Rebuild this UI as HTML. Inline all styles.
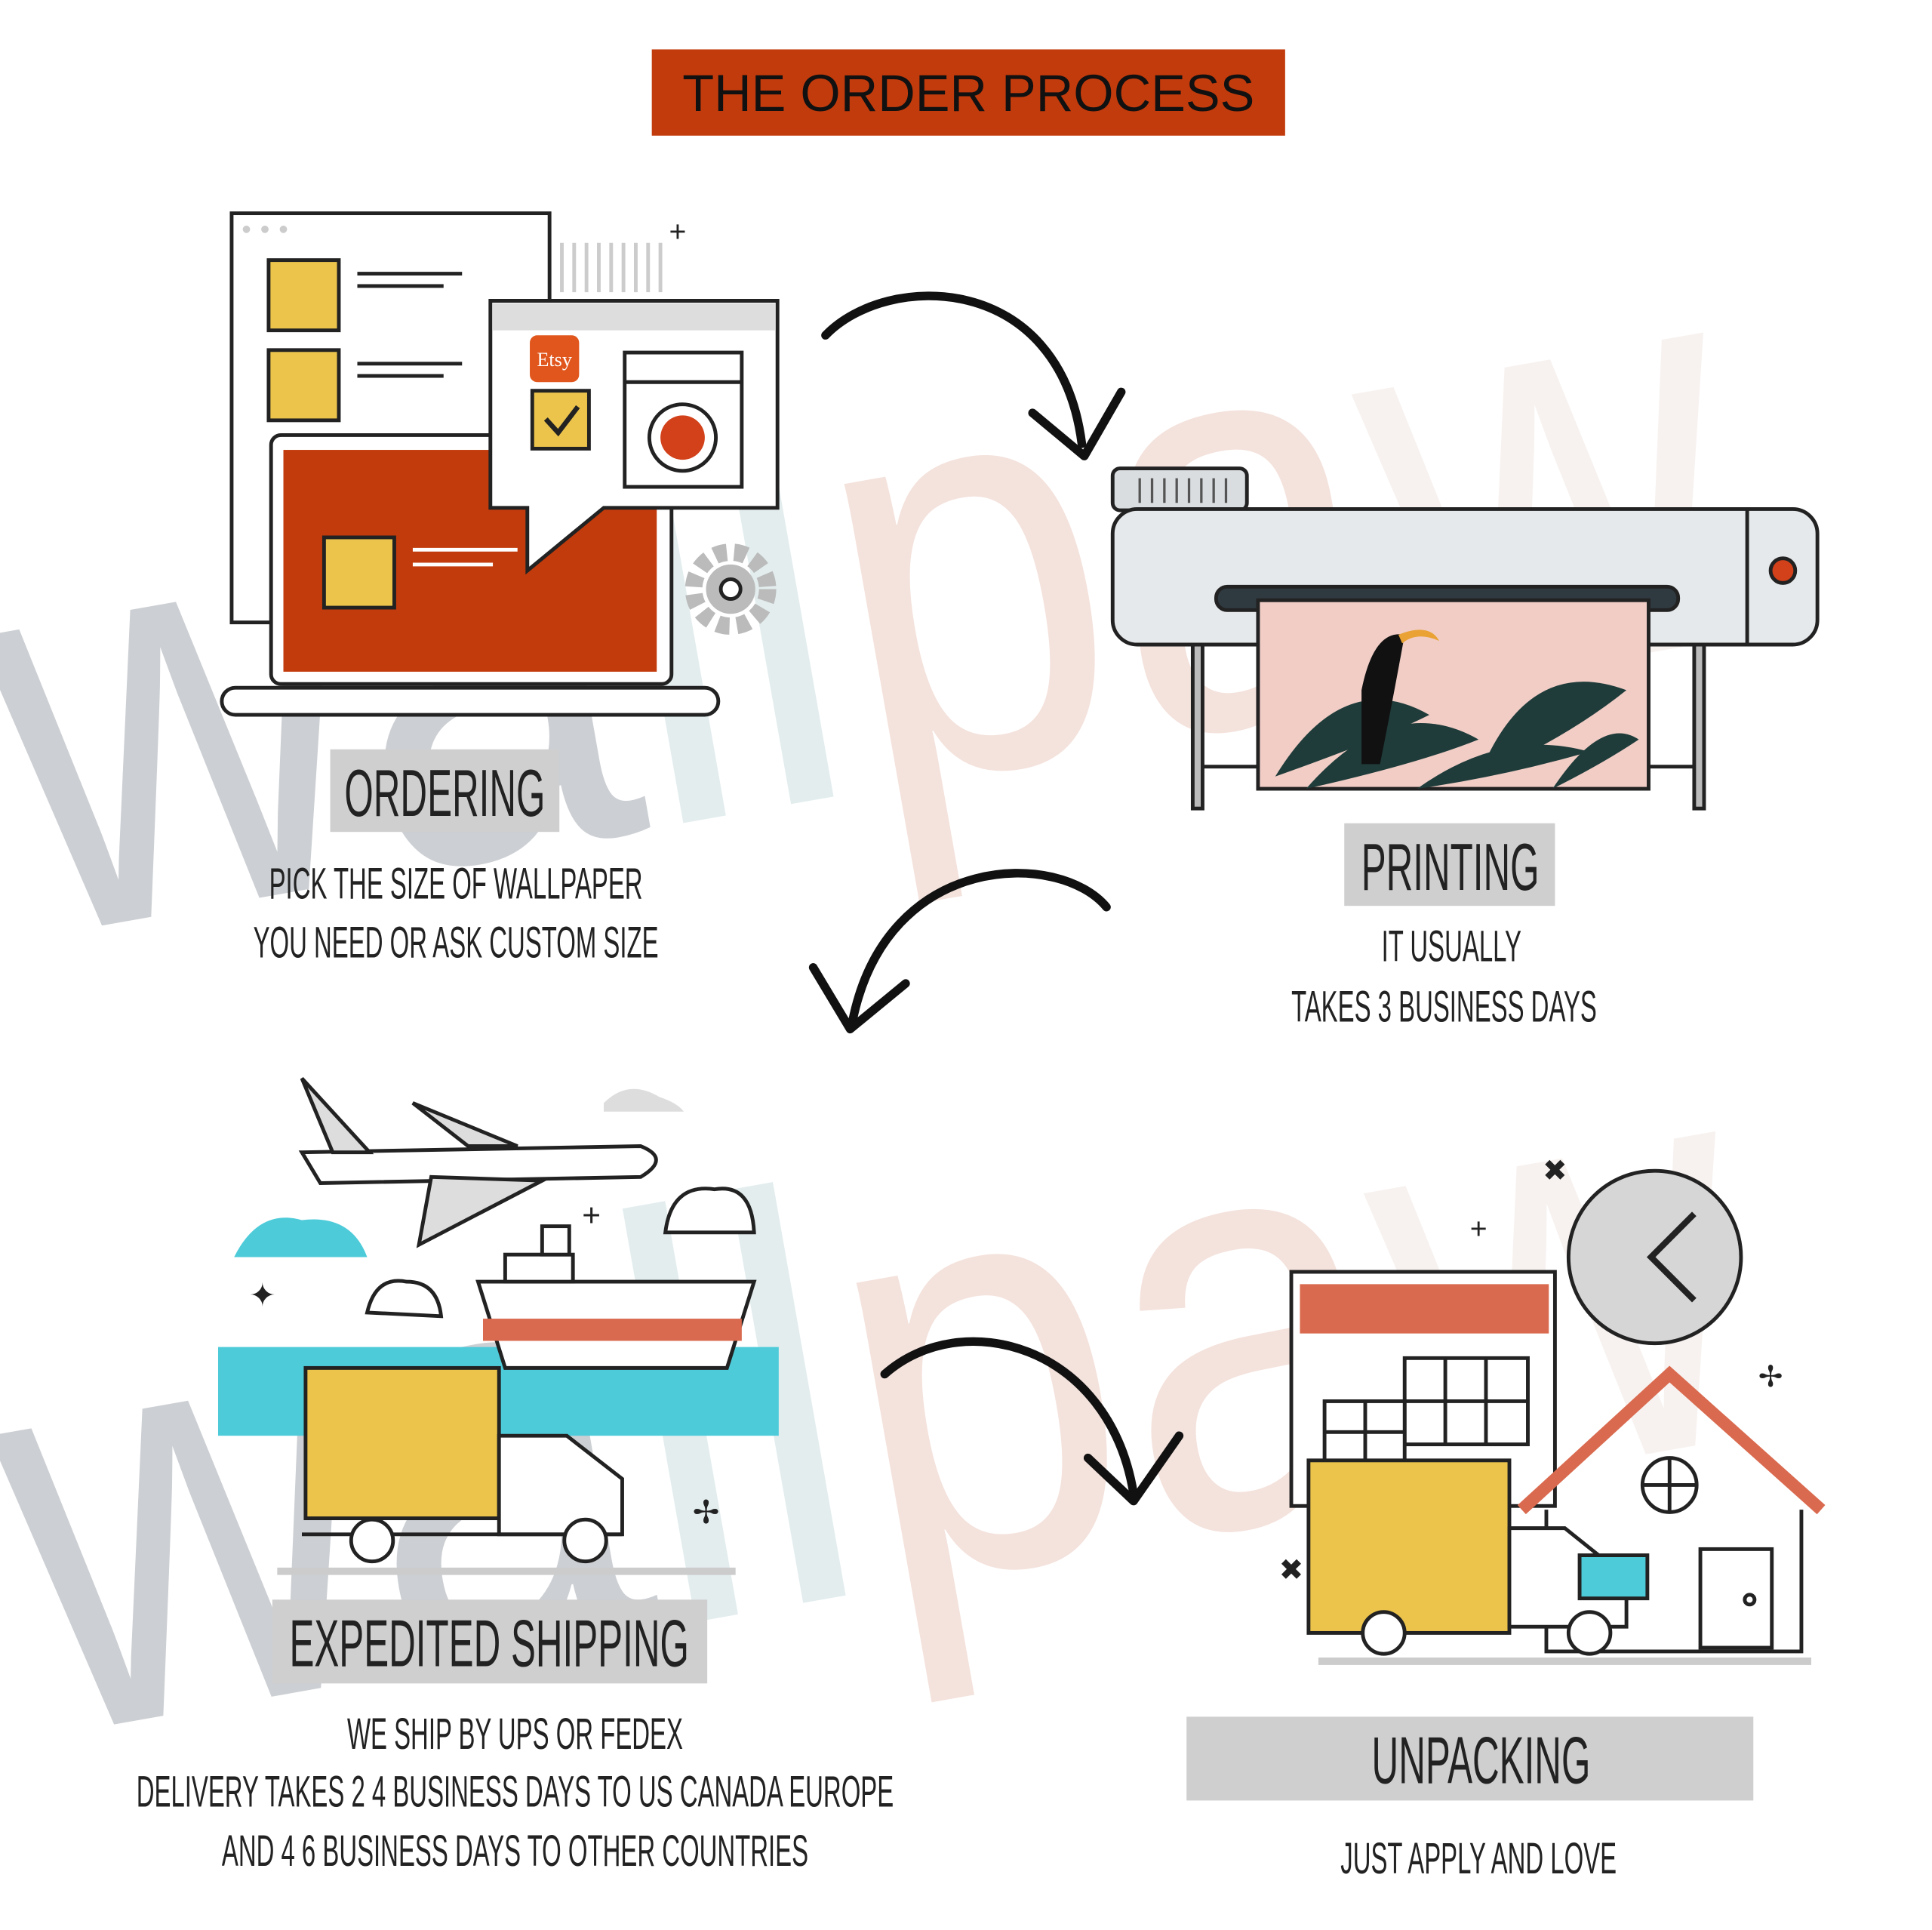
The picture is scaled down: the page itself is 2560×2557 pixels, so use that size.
<!DOCTYPE html>
<html><head><meta charset="utf-8">
<style>
html,body{margin:0;padding:0;background:#fff;}
svg{display:block;}
.lab{font-family:"Liberation Sans",sans-serif;fill:#222;}
</style></head>
<body>
<svg width="2560" height="2557" viewBox="0 0 1568 1566" xmlns="http://www.w3.org/2000/svg">
<rect width="1568" height="1566" fill="#fff"/>

<!-- watermarks -->
<g opacity="0.45" font-family="Liberation Sans,sans-serif" font-size="470">
 <text transform="rotate(-10 700 500) translate(-10 640) scale(0.85 1)"><tspan fill="#8f969e">wa</tspan><tspan fill="#c2d8db">ll</tspan><tspan fill="#e8bfb3">pa</tspan><tspan fill="#efe4de">w</tspan></text>
 <text transform="rotate(-10 700 1150) translate(0 1290) scale(0.85 1)"><tspan fill="#8f969e">wa</tspan><tspan fill="#c2d8db">ll</tspan><tspan fill="#e8bfb3">pa</tspan><tspan fill="#efe4de">w</tspan></text>
</g>

<!-- title -->
<rect x="529" y="40" width="514" height="70" fill="#c23b0c"/>
<text x="786" y="90" text-anchor="middle" font-family="Liberation Sans,sans-serif" font-size="42" fill="#111">THE ORDER PROCESS</text>

<!-- ORDERING illustration -->
<g stroke="#222" stroke-width="3">
 <rect x="188" y="173" width="258" height="332" fill="#fff"/>
 <circle cx="200" cy="186" r="3" fill="#ccc" stroke="none"/><circle cx="215" cy="186" r="3" fill="#ccc" stroke="none"/><circle cx="230" cy="186" r="3" fill="#ccc" stroke="none"/>
 <rect x="218" y="211" width="57" height="57" fill="#ecc44c"/>
 <rect x="218" y="284" width="57" height="57" fill="#ecc44c"/>
 <line x1="290" y1="222" x2="375" y2="222"/><line x1="290" y1="232" x2="360" y2="232"/>
 <line x1="290" y1="295" x2="375" y2="295"/><line x1="290" y1="305" x2="360" y2="305"/>
 <rect x="220" y="353" width="325" height="202" rx="8" fill="#fff"/>
 <rect x="230" y="365" width="303" height="180" fill="#c23b0c" stroke="none"/>
 <rect x="180" y="558" width="403" height="22" rx="11" fill="#fff"/>
 <rect x="263" y="436" width="57" height="57" fill="#ecc44c"/>
 <line x1="335" y1="446" x2="420" y2="446" stroke="#fff"/><line x1="335" y1="458" x2="400" y2="458" stroke="#fff"/>
 <path d="M398 244 H631 V412 H490 L428 463 V412 H398 Z" fill="#fff"/>
 <rect x="400" y="246" width="229" height="22" fill="#ddd" stroke="none"/>
 <rect x="430" y="272" width="40" height="38" rx="6" fill="#e0561c" stroke="none"/>
 <text x="450" y="297" text-anchor="middle" font-family="Liberation Serif,serif" font-size="16" fill="#fff" stroke="none">Etsy</text>
 <rect x="432" y="317" width="46" height="47" fill="#ecc44c"/>
 <path d="M443 340 L453 351 L469 330" fill="none" stroke-width="4"/>
 <rect x="507" y="286" width="95" height="109" fill="#fff"/>
 <line x1="507" y1="310" x2="602" y2="310"/>
 <circle cx="554" cy="355" r="27" fill="#fff"/>
 <circle cx="554" cy="355" r="18" fill="#d2411a" stroke="none"/>
 <circle cx="593" cy="478" r="30" fill="none" stroke="#bbb" stroke-width="14" stroke-dasharray="10 6"/>
 <circle cx="593" cy="478" r="20" fill="#bbb" stroke="none"/>
 <circle cx="593" cy="478" r="8" fill="#fff"/>
</g>
<g stroke="#ccc" stroke-width="3">
 <line x1="456" y1="197" x2="456" y2="237"/><line x1="466" y1="197" x2="466" y2="237"/><line x1="476" y1="197" x2="476" y2="237"/><line x1="486" y1="197" x2="486" y2="237"/><line x1="496" y1="197" x2="496" y2="237"/><line x1="506" y1="197" x2="506" y2="237"/><line x1="516" y1="197" x2="516" y2="237"/><line x1="526" y1="197" x2="526" y2="237"/><line x1="536" y1="197" x2="536" y2="237"/>
</g>
<text x="550" y="196" font-family="Liberation Sans,sans-serif" font-size="24" fill="#222" text-anchor="middle">+</text>

<!-- Arrows -->
<g fill="none" stroke="#111" stroke-width="7" stroke-linecap="round" stroke-linejoin="round">
 <path d="M670 272 C720 220 860 220 878 360"/>
 <path d="M838 335 L880 370 L910 318"/>
 <path d="M898 736 C860 690 720 690 692 828"/>
 <path d="M660 785 L690 835 L735 798"/>
 <path d="M718 1115 C780 1060 900 1090 920 1212"/>
 <path d="M883 1183 L920 1218 L957 1165"/>
</g>

<!-- PRINTER -->
<g stroke="#222" stroke-width="3">
 <rect x="903" y="380" width="109" height="34" rx="6" fill="#d9dde0"/>
 <rect x="968" y="520" width="8" height="136" fill="#bbb"/>
 <rect x="1375" y="520" width="8" height="136" fill="#bbb"/>
 <line x1="976" y1="622" x2="1375" y2="622"/>
 <rect x="903" y="413" width="572" height="110" rx="20" fill="#e6e9eb"/>
 <line x1="1418" y1="413" x2="1418" y2="523"/>
 <circle cx="1447" cy="463" r="10" fill="#d2411a"/>
 <rect x="987" y="476" width="375" height="19" rx="9" fill="#2f3a40"/>
 <rect x="1021" y="487" width="317" height="153" fill="#f1cdc6"/>
</g>
<g stroke="#555" stroke-width="2"><line x1="925" y1="388" x2="925" y2="408"/><line x1="935" y1="388" x2="935" y2="408"/><line x1="945" y1="388" x2="945" y2="408"/><line x1="955" y1="388" x2="955" y2="408"/><line x1="965" y1="388" x2="965" y2="408"/><line x1="975" y1="388" x2="975" y2="408"/><line x1="985" y1="388" x2="985" y2="408"/><line x1="995" y1="388" x2="995" y2="408"/></g>
<g fill="#1f3c3a">
 <path d="M1035 630 Q1090 540 1160 580 Q1120 600 1035 630Z"/>
 <path d="M1060 640 Q1130 560 1200 600 Q1150 620 1060 640Z"/>
 <path d="M1200 630 Q1240 530 1320 560 Q1270 600 1200 630Z"/>
 <path d="M1150 640 Q1220 590 1290 610 Q1220 630 1150 640Z"/>
 <path d="M1260 640 Q1300 580 1330 600 Q1300 620 1260 640Z"/>
 <path d="M1105 560 Q1115 510 1140 515 Q1130 570 1120 620 L1105 620Z" fill="#111"/>
</g>
<path d="M1135 515 Q1160 505 1168 520 Q1150 512 1138 522Z" fill="#e9a233"/>

<!-- SHIPPING -->
<rect x="177" y="1093" width="455" height="72" fill="#4ecbd9"/>
<g stroke="#222" stroke-width="3">
 <path d="M245 935 L520 930 Q545 940 520 955 L260 960 Z" fill="#fff"/>
 <path d="M245 875 L300 935 L270 935Z" fill="#ddd"/>
 <path d="M335 895 L420 930 L380 930Z" fill="#ddd"/>
 <path d="M350 955 L440 958 L340 1010Z" fill="#ddd"/>
 <path d="M388 1040 L612 1040 L590 1110 L410 1110Z" fill="#fff"/>
 <rect x="392" y="1070" width="210" height="18" fill="#d96a4f" stroke="none"/>
 <rect x="410" y="1018" width="55" height="22" fill="#fff"/>
 <rect x="440" y="995" width="22" height="23" fill="#fff"/>
 <rect x="248" y="1110" width="157" height="122" fill="#ecc44c"/>
 <path d="M405 1165 H460 L505 1200 V1245 H405 Z" fill="#fff"/>
 <line x1="245" y1="1245" x2="505" y2="1245"/>
 <circle cx="302" cy="1250" r="17" fill="#fff"/>
 <circle cx="475" cy="1250" r="17" fill="#fff"/>
 <path d="M540 1000 Q545 960 580 965 Q610 960 612 1000 Z" fill="#fff"/>
 <path d="M298 1065 Q305 1035 330 1040 Q355 1040 358 1068 Z" fill="#fff"/>
</g>
<path d="M190 1020 Q210 980 245 990 Q285 985 298 1020Z" fill="#4ecbd9"/>
<path d="M490 895 Q510 875 535 890 Q550 895 555 902 H490Z" fill="#ddd"/>
<line x1="225" y1="1275" x2="597" y2="1275" stroke="#ccc" stroke-width="6"/>
<g font-family="Liberation Sans,sans-serif" font-size="26" fill="#222" text-anchor="middle">
 <text x="213" y="1060">✦</text><text x="480" y="995">+</text><text x="573" y="1236">✢</text>
</g>

<!-- UNPACKING -->
<g stroke="#222" stroke-width="3">
 <circle cx="1343" cy="1020" r="70" fill="#d6d6d6"/>
 <path d="M1375 985 L1340 1020 L1375 1055" fill="none" stroke-width="5"/>
 <rect x="1048" y="1032" width="214" height="190" fill="#fff"/>
 <rect x="1055" y="1042" width="202" height="40" fill="#d96a4f" stroke="none"/>
 <g fill="#fff">
  <rect x="1140" y="1102" width="100" height="70"/>
  <line x1="1173" y1="1102" x2="1173" y2="1172"/><line x1="1206" y1="1102" x2="1206" y2="1172"/>
  <line x1="1140" y1="1137" x2="1240" y2="1137"/>
  <rect x="1075" y="1137" width="65" height="50"/>
  <line x1="1108" y1="1137" x2="1108" y2="1187"/><line x1="1075" y1="1162" x2="1140" y2="1162"/>
 </g>
 <path d="M1255 1225 V1340 H1462 V1225" fill="#fff"/>
 <path d="M1235 1225 L1355 1115 L1478 1225" fill="none" stroke="#d96a4f" stroke-width="10"/>
 <circle cx="1355" cy="1205" r="22" fill="#fff"/>
 <line x1="1333" y1="1205" x2="1377" y2="1205"/><line x1="1355" y1="1183" x2="1355" y2="1227"/>
 <rect x="1380" y="1257" width="58" height="80" fill="#fff"/>
 <circle cx="1420" cy="1298" r="4" fill="#fff"/>
 <rect x="1062" y="1185" width="163" height="140" fill="#ecc44c"/>
 <path d="M1225 1240 H1270 L1320 1280 V1320 H1225 Z" fill="#fff"/>
 <rect x="1282" y="1262" width="55" height="35" fill="#4ecbd9"/>
 <circle cx="1123" cy="1325" r="17" fill="#fff"/>
 <circle cx="1290" cy="1325" r="17" fill="#fff"/>
</g>
<line x1="1070" y1="1348" x2="1470" y2="1348" stroke="#ccc" stroke-width="6"/>
<g font-family="Liberation Sans,sans-serif" font-size="24" fill="#222" text-anchor="middle">
 <text x="1262" y="958">✖</text><text x="1200" y="1005">+</text><text x="1437" y="1125">✢</text><text x="1048" y="1282">✖</text>
</g>

<!-- labels -->
<g class="lab">
 <rect x="268" y="608" width="186" height="67" fill="#cfcfcf"/>
 <text x="361" y="662" text-anchor="middle" font-size="54" transform="translate(361 0) scale(0.56 1) translate(-361 0)">ORDERING</text>
 <rect x="1091" y="668" width="171" height="67" fill="#cfcfcf"/>
 <text x="1177" y="722" text-anchor="middle" font-size="54" transform="translate(1177 0) scale(0.56 1) translate(-1177 0)">PRINTING</text>
 <rect x="221" y="1298" width="353" height="68" fill="#cfcfcf"/>
 <text x="397" y="1352" text-anchor="middle" font-size="54" transform="translate(397 0) scale(0.56 1) translate(-397 0)">EXPEDITED SHIPPING</text>
 <rect x="963" y="1393" width="460" height="68" fill="#cfcfcf"/>
 <text x="1202" y="1447" text-anchor="middle" font-size="54" transform="translate(1202 0) scale(0.56 1) translate(-1202 0)">UNPACKING</text>

 <g font-size="36">
  <text x="370" y="729" text-anchor="middle" transform="translate(370 0) scale(0.56 1) translate(-370 0)">PICK THE SIZE OF WALLPAPER</text>
  <text x="370" y="777" text-anchor="middle" transform="translate(370 0) scale(0.56 1) translate(-370 0)">YOU NEED OR ASK CUSTOM SIZE</text>
  <text x="1178" y="780" text-anchor="middle" transform="translate(1178 0) scale(0.56 1) translate(-1178 0)">IT USUALLY</text>
  <text x="1172" y="829" text-anchor="middle" transform="translate(1172 0) scale(0.56 1) translate(-1172 0)">TAKES 3 BUSINESS DAYS</text>
  <text x="418" y="1419" text-anchor="middle" transform="translate(418 0) scale(0.56 1) translate(-418 0)">WE SHIP BY UPS OR FEDEX</text>
  <text x="418" y="1466" text-anchor="middle" transform="translate(418 0) scale(0.56 1) translate(-418 0)">DELIVERY TAKES 2 4 BUSINESS DAYS TO US  CANADA  EUROPE</text>
  <text x="418" y="1514" text-anchor="middle" transform="translate(418 0) scale(0.56 1) translate(-418 0)">AND 4 6 BUSINESS DAYS TO OTHER COUNTRIES</text>
  <text x="1200" y="1520" text-anchor="middle" transform="translate(1200 0) scale(0.56 1) translate(-1200 0)">JUST APPLY AND LOVE</text>
 </g>
</g>
</svg>
</body></html>
